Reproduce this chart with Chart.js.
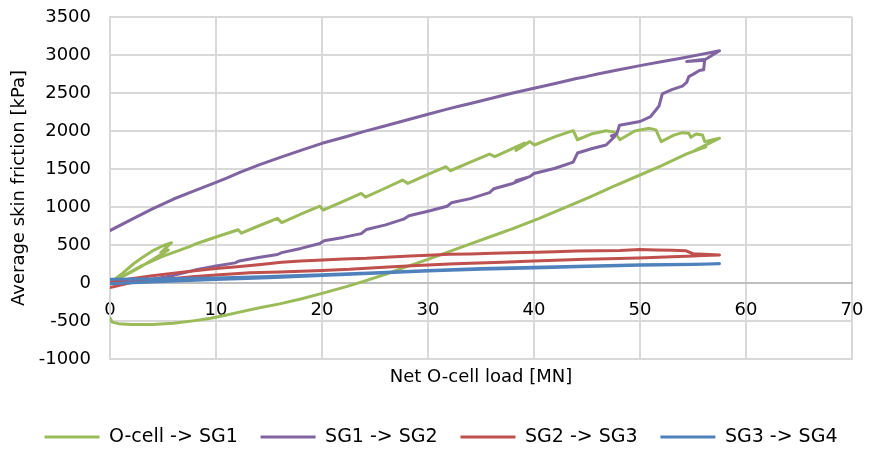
<!DOCTYPE html>
<html>
<head>
<meta charset="utf-8">
<script src="https://cdn.jsdelivr.net/npm/chart.js@4.4.1/dist/chart.umd.min.js"></script>
<style>
html, body { margin: 0; padding: 0; background: #fff; }
</style>
</head>
<body>
<canvas id="graficoAtrito" width="872" height="452"></canvas>
<script>
// [net O-cell load (MN), average skin friction (kPa)]
var ocellSg1 = [
	[0,0],[1.2,130],[2.2,250],[3.2,350],[4.1,430],[5,490],[5.8,530],[4.8,400],[5.5,435],
	[2.8,205],[0.2,10],[1.5,110],[2.8,214],[4.9,346],[7.5,478],[8.2,520],[10,605],[12.1,700],
	[12.4,655],[14,750],[15.8,850],[16.2,795],[18,905],[19.8,1010],[20.1,960],[22,1075],
	[23.7,1180],[24.1,1130],[26,1250],[27.6,1355],[28.1,1310],[30,1430],[31.7,1530],
	[32.1,1477],[34,1590],[35.8,1697],[36.3,1662],[37.6,1745],[39.1,1840],[38.3,1745],
	[39.6,1860],[40.05,1816],[42,1925],[43.7,2004],[44.1,1885],[45.5,1965],[46.8,2004],
	[47.6,1985],[48.1,1885],[49.5,2000],[50.9,2035],[51.5,2015],[52,1860],[53.2,1945],
	[54,1978],[54.6,1970],[54.8,1917],[55.3,1960],[55.9,1947],[56.1,1860],[57.5,1905],
	[56,1800],[55.2,1745],[56.2,1790],[54.4,1700],[52,1540],[50,1421],[47.5,1270],
	[45.2,1128],[42.8,985],[40.5,851],[38,715],[36,615],[34,515],[32,412],[30,310],
	[28,215],[26,115],[24,25],[22.3,-48],[20,-136],[18,-210],[16,-275],[14,-330],
	[12,-390],[11,-421],[9.5,-465],[8,-495],[6,-530],[4,-545],[2,-545],[0.8,-535],
	[0.2,-515],[0,-460]
];
var sg1Sg2 = [
	[0,0],[2,20],[4,50],[6,100],[8,170],[10,225],[11.8,265],[12.2,290],[14,335],[15.8,375],
	[16.2,400],[18,455],[19.8,520],[20.2,555],[22,600],[23.7,650],[24.2,705],[26,765],
	[27.7,840],[28.2,885],[30,945],[31.8,1010],[32.2,1055],[34,1110],[35.8,1190],[36.2,1240],
	[38,1310],[39.3,1385],[38.3,1345],[39.6,1400],[40,1440],[42,1510],[43.7,1590],[44.1,1710],
	[45.5,1770],[46.8,1816],[47.6,1925],[47.3,1935],[47.8,1960],[48.07,2075],[50,2125],
	[51,2190],[51.5,2276],[51.8,2330],[52.1,2490],[53,2545],[54,2590],[54.4,2640],[54.6,2715],
	[55,2745],[55.6,2795],[56,2805],[56.1,2930],[54.4,2915],[56.2,2945],[57.5,3057],
	[56,3015],[54,2960],[52,2910],[50,2860],[48,2805],[46,2750],[44.9,2715],[44,2690],
	[42,2625],[40,2562],[38,2500],[36,2430],[34,2362],[33,2330],[32,2295],[30,2220],
	[28,2145],[26,2070],[24,1995],[22.5,1934],[22,1915],[20,1838],[18,1745],[16,1650],
	[14,1550],[12.25,1455],[11,1380],[10,1325],[8,1215],[6,1105],[4,975],[2,835],[0,690]
];
var sg2Sg3 = [
	[0,10],[2,55],[4,95],[6,130],[8,160],[10,190],[12,215],[14,240],[16.2,272],[18,290],
	[20.1,303],[22,315],[24.2,325],[26,340],[28.3,355],[30,365],[32,377],[34,383],[36.1,390],
	[38,397],[40.2,404],[42,412],[44,421],[46,424],[48.1,428],[50,440],[51.5,435],[53,430],
	[54.3,425],[55,385],[56,378],[57.5,370],
	[56,362],[55,355],[53,345],[50.6,333],[48,323],[44.9,311],[42,298],[40,288],[37,273],
	[34,259],[32,250],[30,237],[28,224],[25,202],[22.6,180],[20,165],[18,155],[16,145],
	[13.2,135],[10,105],[8,85],[6,60],[4,35],[2,5],[0,-60]
];
var sg3Sg4 = [
	[0,50],[5,55],[10,65],[15,85],[20,110],[25,135],[30,165],[35,190],[40,207],[45,225],
	[50,240],[55,248],[57.5,252],
	[55,245],[50,232],[45,217],[40,198],[35,180],[30,158],[25,127],[20,100],[15,70],
	[10,45],[5,20],[0,-10]
];

var nomesSeries = ['O-cell -> SG1', 'SG1 -> SG2', 'SG2 -> SG3', 'SG3 -> SG4'];
var coresSeries = ['#9bbb59', '#8064a2', '#c0504d', '#4f81bd'];
var ticksCarga = [0, 10, 20, 30, 40, 50, 60, 70];
var ticksAtrito = [-1000, -500, 0, 500, 1000, 1500, 2000, 2500, 3000, 3500];

function fixarTicks(valores) {
	return function(scale) {
		scale.ticks = valores.map(function(v) { return { value: v }; });
	};
}

function comoTexto(v) {
	return String(v);
}

// a legenda fica centrada no canvas, não na área sem o padding da direita
var centralizaLegenda = {
	id: 'centralizaLegenda',
	afterLayout: function(chart) {
		chart.legend.left += 15;
		chart.legend.right += 15;
	}
};

var dados = [ocellSg1, sg1Sg2, sg2Sg3, sg3Sg4];
var datasets = dados.map(function(serie, i) {
	return {
		label: nomesSeries[i],
		data: serie.map(function(p) { return { x: p[0], y: p[1] }; }),
		showLine: true,
		borderColor: coresSeries[i],
		backgroundColor: coresSeries[i],
		borderWidth: 3,
		borderJoinStyle: 'round',
		borderCapStyle: 'round',
		pointRadius: 0,
		fill: false,
		order: dados.length - i
	};
});

Chart.defaults.font.family = '"DejaVu Sans", Verdana, sans-serif';
Chart.defaults.font.size = 18;
Chart.defaults.color = '#000';

var ctx = document.getElementById('graficoAtrito').getContext('2d');
var grafico = new Chart(ctx, {
	type: 'scatter',
	data: { datasets: datasets },
	plugins: [centralizaLegenda],
	options: {
		responsive: false,
		animation: false,
		devicePixelRatio: 1,
		layout: { padding: { top: 17, right: 20, bottom: -4.5, left: 0 } },
		plugins: {
			tooltip: { enabled: false },
			legend: {
				position: 'bottom',
				labels: {
					usePointStyle: true,
					pointStyle: 'line',
					pointStyleWidth: 55,
					padding: 22.8,
					font: { size: 19 },
					sort: function(a, b) { return a.datasetIndex - b.datasetIndex; }
				}
			}
		},
		scales: {
			x: {
				type: 'linear',
				position: 'bottom',
				min: 0,
				max: 70,
				afterBuildTicks: fixarTicks(ticksCarga),
				grid: { color: '#d9d9d9', lineWidth: 2, drawTicks: false },
				border: { color: '#d9d9d9', width: 2 },
				ticks: { display: false },
				title: {
					display: true,
					text: 'Net O-cell load [MN]',
					font: { size: 18 },
					padding: { top: 7.2, bottom: 16.9 }
				}
			},
			x2: {
				type: 'linear',
				axis: 'x',
				position: { y: 0 },
				min: 0,
				max: 70,
				afterBuildTicks: fixarTicks(ticksCarga),
				grid: { display: false, drawTicks: true, tickLength: 17, tickColor: 'rgba(0,0,0,0)' },
				border: { color: '#bfbfbf', width: 2 },
				ticks: { padding: 0, callback: comoTexto, maxRotation: 0 }
			},
			y: {
				type: 'linear',
				min: -1000,
				max: 3500,
				afterBuildTicks: fixarTicks(ticksAtrito),
				afterFit: function(scale) { scale.width = 110; },
				grid: { color: '#d9d9d9', lineWidth: 2, drawTicks: true, tickLength: 19, tickColor: 'rgba(0,0,0,0)' },
				border: { color: '#d9d9d9', width: 2 },
				ticks: { padding: 0, callback: comoTexto },
				title: {
					display: true,
					text: 'Average skin friction [kPa]',
					font: { size: 18 },
					padding: { top: 9, bottom: 0 }
				}
			}
		}
	}
});
</script>
</body>
</html>
